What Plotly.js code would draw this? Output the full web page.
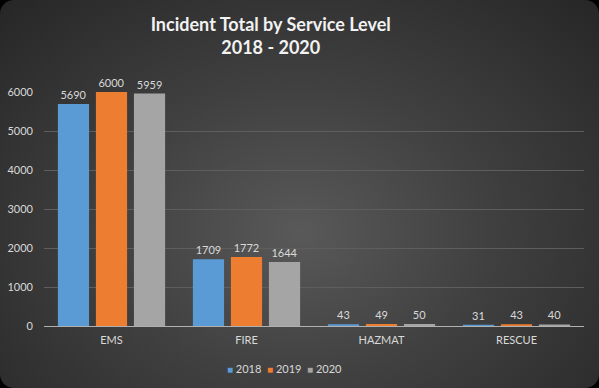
<!DOCTYPE html>
<html><head><meta charset="utf-8">
<script src="https://cdn.plot.ly/plotly-3.0.1.min.js"></script>
<style>
html,body{margin:0;padding:0;background:#000;}
#wrap{position:absolute;left:0;top:0;width:599px;height:388px;border-radius:14px;overflow:hidden;
background:radial-gradient(ellipse at 50% 60%, #595959 0%, #404040 45%, #262626 100%);}
#chart{width:599px;height:388px;}
</style></head>
<body><div id="wrap"><div id="chart"></div></div>
<script>
const categories = ["EMS", "FIRE", "HAZMAT", "RESCUE"];
const years = ["2018", "2019", "2020"];
const v2018 = [5690, 1709, 43, 31];
const v2019 = [6000, 1772, 49, 43];
const v2020 = [5959, 1644, 50, 40];
const yTicks = [0, 1000, 2000, 3000, 4000, 5000, 6000];

const colors = ["#5b9bd5", "#ed7d31", "#a5a5a5"];
const series = [v2018, v2019, v2020];
const traces = series.map((vals, i) => ({
  type: "bar", name: years[i], x: categories, y: vals,
  text: vals.map(String), textposition: "outside", cliponaxis: false,
  textfont: {color: "#d9d9d9", size: 11, family: "Lato, sans-serif"},
  marker: {color: colors[i], line: {width: 0}},
  hoverinfo: "x+y+name"
}));

// compact legend built from the series names and colours
const legendText = years.map((y, i) =>
  `<span style="color:${colors[i]};font-size:10px">■</span> ${y}`).join("&nbsp;&nbsp;");

const layout = {
  width: 599, height: 388,
  paper_bgcolor: "rgba(0,0,0,0)", plot_bgcolor: "rgba(0,0,0,0)",
  margin: {l: 44, r: 15, t: 92, b: 62, autoexpand: false},
  title: {text: "Incident Total by Service Level<br>2018 - 2020", x: 0.452, xanchor: "center",
    y: 0.921, yanchor: "top",
    font: {family: "Lato, sans-serif", size: 18, color: "#f2f2f2", weight: "bold"}},
  barmode: "group", bargap: 0.155, bargroupgap: 0.18,
  xaxis: {showgrid: false, showline: true, linecolor: "#b0b0b0", linewidth: 1,
    ticks: "", ticklabelstandoff: 4,
    tickfont: {family: "Lato, sans-serif", size: 11, color: "#d9d9d9"}, fixedrange: true},
  yaxis: {range: [0, 6000], tickvals: yTicks, ticktext: yTicks.map(String),
    showgrid: true, gridcolor: "#5e5e5e", gridwidth: 1, zeroline: false, showline: false,
    ticks: "", ticklabelstandoff: 10,
    tickfont: {family: "Lato, sans-serif", size: 11, color: "#d9d9d9"}, fixedrange: true},
  showlegend: false,
  annotations: [{text: legendText, xref: "paper", yref: "paper", x: 0.446, y: -0.18,
    xanchor: "center", yanchor: "middle", showarrow: false,
    font: {family: "Lato, sans-serif", size: 11, color: "#d9d9d9"}}]
};
Plotly.newPlot("chart", traces, layout, {displayModeBar: false, staticPlot: true});
</script></body></html>
